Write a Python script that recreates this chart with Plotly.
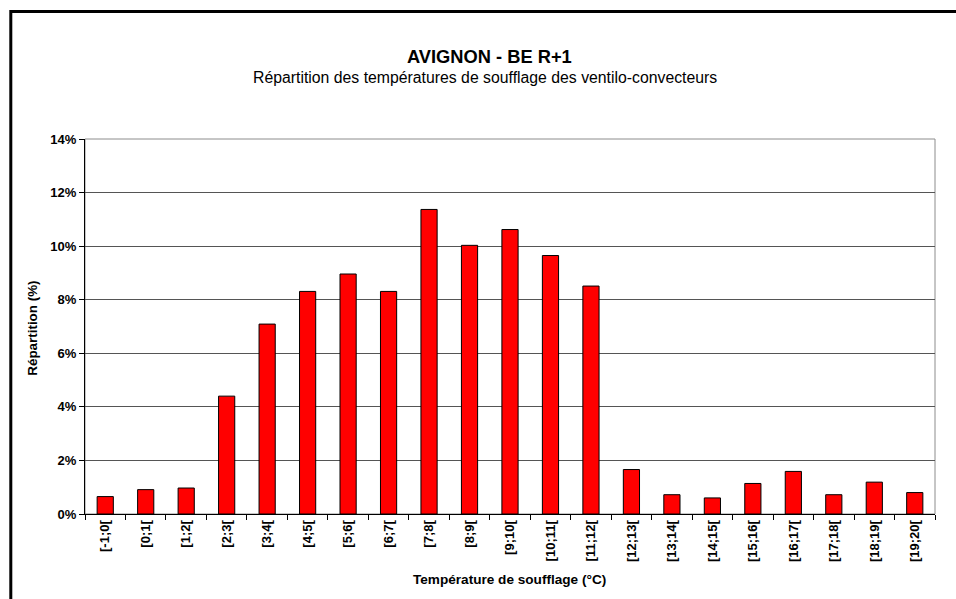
import plotly.graph_objects as go

categories = ["[-1;0[", "[0;1[", "[1;2[", "[2;3[", "[3;4[", "[4;5[", "[5;6[", "[6;7[",
              "[7;8[", "[8;9[", "[9;10[", "[10;11[", "[11;12[", "[12;13[", "[13;14[",
              "[14;15[", "[15;16[", "[16;17[", "[17;18[", "[18;19[", "[19;20["]
values = [0.65, 0.91, 0.97, 4.40, 7.09, 8.31, 8.96, 8.31,
          11.37, 10.03, 10.62, 9.65, 8.51, 1.66, 0.72,
          0.60, 1.14, 1.59, 0.72, 1.19, 0.80]
values = [v / 100 for v in values]
y_ticks = [0, 0.02, 0.04, 0.06, 0.08, 0.10, 0.12, 0.14]
y_tick_labels = ["0%", "2%", "4%", "6%", "8%", "10%", "12%", "14%"]

FONT = "Arial, Liberation Sans, sans-serif"
W, H = 956, 599
L, R, T, B = 85, 935, 139.3, 514.3

def px(x):
    return (x - L) / (R - L)

def py(y):
    return (B - y) / (B - T)

fig = go.Figure(go.Bar(
    x=categories, y=values,
    marker=dict(color="#FF0000", line=dict(color="#000000", width=1)),
    hoverinfo="x+y",
))

fig.update_layout(
    width=W, height=H,
    margin=dict(l=L, r=W - R, t=T, b=H - B, pad=0),
    paper_bgcolor="white", plot_bgcolor="white",
    showlegend=False,
    bargap=0.6,
    font=dict(family=FONT, color="black"),
    xaxis=dict(
        type="category", tickangle=-90, tickson="boundaries",
        ticks="outside", ticklen=5, tickcolor="black",
        showline=True, linecolor="black", linewidth=1,
        showgrid=False, zeroline=False,
        tickfont=dict(family=FONT, size=13, color="black", weight="bold"),
    ),
    yaxis=dict(
        range=[0, 0.14], tickvals=y_ticks, ticktext=y_tick_labels,
        ticks="outside", ticklen=5, tickcolor="black",
        showline=True, linecolor="black", linewidth=1,
        showgrid=True, gridcolor="#555555", gridwidth=1,
        zeroline=False,
        tickfont=dict(family=FONT, size=13, color="black", weight="bold"),
    ),
    shapes=[
        # plot-area outline (gray top/right)
        dict(type="rect", xref="paper", yref="paper", x0=0, x1=1, y0=0, y1=1,
             line=dict(color="#8c8c8c", width=1), layer="below"),
        # chart frame
        dict(type="rect", xref="paper", yref="paper",
             x0=px(10.8), x1=px(990), y0=py(640), y1=py(11.8),
             line=dict(color="black", width=3), layer="above"),
    ],
    annotations=[
        dict(text="<b>AVIGNON - BE R+1</b>", xref="paper", yref="paper",
             x=px(489), y=py(56.5), xanchor="center", yanchor="middle",
             showarrow=False, font=dict(family=FONT, size=18.3, color="black")),
        dict(text="Répartition des températures de soufflage des ventilo-convecteurs",
             xref="paper", yref="paper", x=px(485), y=py(77.5),
             xanchor="center", yanchor="middle", showarrow=False,
             font=dict(family=FONT, size=15.8, color="black")),
        dict(text="<b>Répartition (%)</b>", xref="paper", yref="paper",
             x=px(33), y=py(329), xanchor="center", yanchor="middle", textangle=-90,
             showarrow=False, font=dict(family=FONT, size=13.4, color="black")),
        dict(text="<b>Température de soufflage (°C)</b>", xref="paper", yref="paper",
             x=px(509), y=py(580), xanchor="center", yanchor="middle",
             showarrow=False, font=dict(family=FONT, size=13.6, color="black")),
    ],
)

fig.write_html(
    "out.html",
    config={"displayModeBar": False},
    post_script="document.body.style.margin='0';document.body.style.overflow='hidden';",
)
